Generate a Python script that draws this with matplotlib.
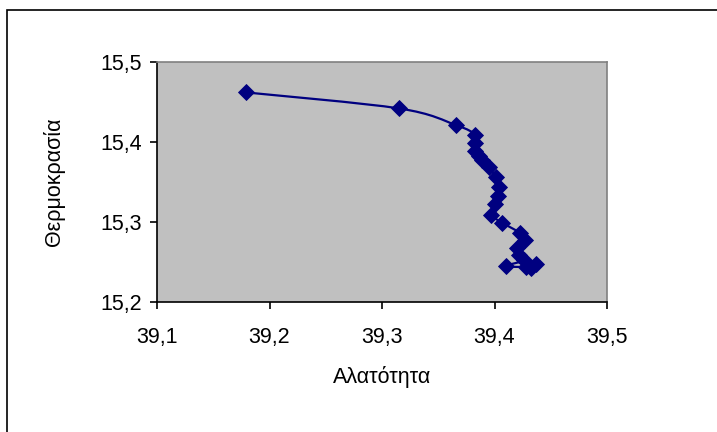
import numpy as np
import matplotlib.pyplot as plt
from matplotlib.path import Path
from matplotlib.patches import PathPatch, Rectangle

plt.rcParams['font.family'] = ['Liberation Sans', 'DejaVu Sans']

# Αλατότητα / Θερμοκρασία (μετρήσεις κατά βάθος)
salinity = [39.179, 39.315, 39.366, 39.383, 39.383, 39.383, 39.386, 39.389,
            39.395, 39.401, 39.404, 39.403, 39.400, 39.397, 39.407, 39.423,
            39.427, 39.420, 39.422, 39.426, 39.410, 39.428, 39.437, 39.432]
temperature = [15.462, 15.442, 15.421, 15.409, 15.399, 15.389, 15.382, 15.377,
               15.369, 15.356, 15.344, 15.332, 15.322, 15.309, 15.299, 15.286,
               15.277, 15.267, 15.259, 15.252, 15.245, 15.244, 15.247, 15.243]

navy = '#000080'

fig = plt.figure(figsize=(7.17, 4.32), dpi=100)
# πλαίσιο γραφήματος
fig.patches.append(Rectangle((7 / 717, -0.1), 1.2, 1 - 10 / 432 + 0.1,
                             transform=fig.transFigure, fill=False,
                             edgecolor='black', linewidth=1.2))

ax = fig.add_axes([157 / 717, 1 - 302 / 432, 450 / 717, 240 / 432])
ax.set_facecolor('#C0C0C0')

# ομαλή καμπύλη (Bezier) ανάμεσα στα σημεία
pts = np.column_stack([salinity, temperature])
verts = [pts[0]]
codes = [Path.MOVETO]
n = len(pts)
for i in range(n - 1):
    p0 = pts[max(i - 1, 0)]
    p1 = pts[i]
    p2 = pts[i + 1]
    p3 = pts[min(i + 2, n - 1)]
    verts += [p1 + (p2 - p0) / 6, p2 - (p3 - p1) / 6, p2]
    codes += [Path.CURVE4] * 3
ax.add_patch(PathPatch(Path(verts, codes), facecolor='none',
                       edgecolor=navy, linewidth=1.6, zorder=2))

ax.plot(salinity, temperature, linestyle='none', marker='D', markersize=8.2,
        color=navy, markeredgewidth=0.6, zorder=3)

ax.set_xlim(39.1, 39.5)
ax.set_ylim(15.2, 15.5)
ax.set_xticks([39.1, 39.2, 39.3, 39.4, 39.5])
ax.set_yticks([15.2, 15.3, 15.4, 15.5])
ax.set_xticklabels(['39,1', '39,2', '39,3', '39,4', '39,5'])
ax.set_yticklabels(['15,2', '15,3', '15,4', '15,5'])
ax.tick_params(direction='out', length=5, width=1.2, labelsize=15.5, pad=6)
ax.tick_params(axis='x', pad=13)

for side in ['top', 'right']:
    ax.spines[side].set_color('#808080')
    ax.spines[side].set_linewidth(1.2)
for side in ['left', 'bottom']:
    ax.spines[side].set_color('black')
    ax.spines[side].set_linewidth(1.2)

ax.set_xlabel('Αλατότητα', fontsize=15.5, labelpad=13)
ax.set_ylabel('Θερμοκρασία', fontsize=15.5, labelpad=25)

fig.savefig('out.png', dpi=100)
